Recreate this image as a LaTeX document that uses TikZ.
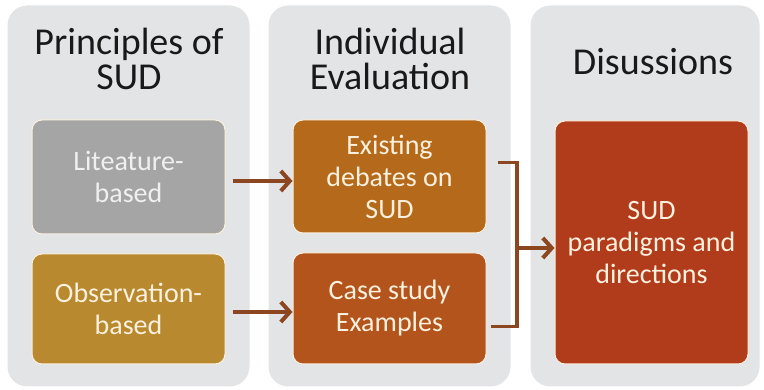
\documentclass[tikz,border=0pt]{standalone}
\usepackage{fontspec}
\setmainfont{Carlito}
\usepackage{tikz}
\usetikzlibrary{arrows.meta}
\usepackage{xcolor}

\definecolor{panelgray}{RGB}{227,228,230}
\definecolor{litgray}{RGB}{165,165,165}
\definecolor{obsgold}{RGB}{184,137,47}
\definecolor{exorange}{RGB}{180,106,26}
\definecolor{caserust}{RGB}{178,84,28}
\definecolor{sudred}{RGB}{176,60,28}
\definecolor{linkbrown}{RGB}{140,70,32}
\definecolor{boxtext}{RGB}{252,240,222}

\begin{document}
\begin{tikzpicture}[x=1pt,y=-1pt,
    panel/.style={rectangle,rounded corners=20pt,fill=panelgray,draw=white,
      line width=1pt,inner sep=0pt},
    title/.style={align=center,text=black!90,
      font=\fontsize{38}{35}\selectfont},
    stage/.style={rectangle,rounded corners=10pt,draw=boxtext,line width=1pt,
      minimum width=193pt,inner sep=0pt,align=center,text=boxtext,
      font=\fontsize{28}{32}\selectfont},
    link/.style={draw=linkbrown,line width=4pt,
      -{Straight Barb[length=9pt,width=20pt]}}]
        \useasboundingbox (0,0) rectangle (764,390);

        %------------------
        % 背景パネル
        %------------------
        \node[panel,minimum width=243pt,minimum height=382pt] (pnlA) at (128.5,196) {};
        \node[panel,minimum width=243pt,minimum height=382pt] (pnlB) at (389.5,196) {};
        \node[panel,minimum width=230pt,minimum height=382pt] (pnlC) at (645,196) {};

        % 見出し
        \node[title] (ttlA) at (129,59) {Principles of\\SUD};
        \node[title] (ttlB) at (390,59) {Individual\\Evaluation};
        \node[title] (ttlC) at (653,62) {Disussions};

        %------------------
        % 各ボックス
        %------------------
        \node[stage,fill=litgray,text=white!94!black,minimum height=114pt] (lit) at (128.5,177) {Liteature-\\based};
        \node[stage,fill=obsgold,minimum height=110pt] (obs) at (128.5,309) {Observation-\\based};
        \node[stage,fill=exorange,minimum height=113pt] (exist) at (389.5,176.5) {Existing\\debates on\\SUD};
        \node[stage,fill=caserust,minimum height=111pt] (case) at (389.5,308.5) {Case study\\Examples};
        \node[stage,fill=sudred,minimum height=243pt] (sud) at (651.5,242.5) {SUD\\paradigms and\\directions};

        %------------------
        % 矢印
        %------------------
        \draw[link,shorten <=7pt] ([yshift=-4pt]lit.east) -- ([yshift=-4pt]lit.east -| exist.west);
        \draw[link,shorten <=7pt] ([yshift=-3pt]obs.east) -- ([yshift=-3pt]obs.east -| case.west);

        % 右側の括弧
        \coordinate (join) at (517,248);
        \draw[draw=linkbrown,line width=3.5pt] ([xshift=11pt,yshift=14pt]exist.east) -| (join)
          |- ([xshift=4pt,yshift=-18pt]case.east);
        \draw[link,shorten <=-1.75pt] (join) -- (join -| sud.west);
      \end{tikzpicture}
\end{document}
